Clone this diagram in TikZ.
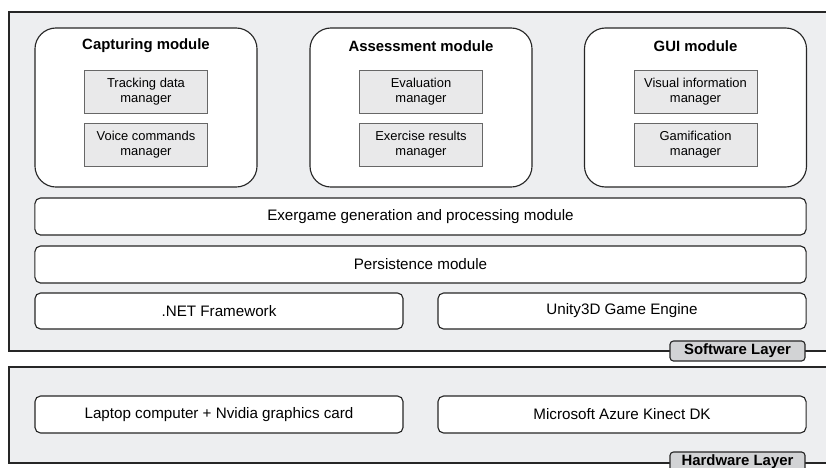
\documentclass[tikz,border=0pt]{standalone}
\usepackage{fontspec}
\setmainfont{Liberation Sans}
\usetikzlibrary{positioning}
\definecolor{cframe}{HTML}{EDEEF0}
\definecolor{cinner}{HTML}{E9E9EA}
\definecolor{ctag}{HTML}{D2D3D5}
\definecolor{cline}{HTML}{262626}
\tikzset{
  every picture/.style={line width=0.8pt},
  layer/.style={draw=cline, fill=cframe, line width=1pt},
  module/.style={draw=cline, fill=white, rounded corners=15pt, minimum width=5.55cm, minimum height=3.975cm},
  part/.style={draw=cline!70, fill=cinner, line width=0.6pt, align=center, minimum width=3.075cm, minimum height=1.075cm, font=\fontsize{9.2}{10.5}\selectfont, inner sep=1pt},
  bar/.style={draw=cline, fill=white, rounded corners=4pt, minimum height=0.925cm, font=\fontsize{10.8}{12}\selectfont},
  tag/.style={draw=cline, fill=ctag, rounded corners=2.5pt, minimum width=3.375cm, minimum height=0.5cm, inner sep=0pt, font=\bfseries\fontsize{10.6}{12}\selectfont},
}
\begin{document}
\begin{tikzpicture}[x=0.025cm, y=-0.025cm]
  \useasboundingbox (0,0) rectangle (826,467);
  % layers
  \draw[layer] (840,12) -- (9,12) -- (9,351) -- (840,351);
  \draw[layer] (840,367) -- (9,367) -- (9,463) -- (840,463);
  % modules with their managers
  \foreach \X/\name/\h/\a/\b in {
     146/cap/{Capturing module}/{Tracking data\\manager}/{Voice commands\\manager},
     421/ass/{Assessment module}/{Evaluation\\manager}/{Exercise results\\manager},
     695.5/gui/{GUI module}/{Visual information\\manager}/{Gamification\\manager}} {
    \node[module] (\name) at (\X,107.5) {};
    \node[font=\bfseries\fontsize{10.6}{12}\selectfont] (\name-title) at (\X,46) {\h};
    \node[part] (\name-a) at (\X,91.5) {\a};
    \node[part] (\name-b) at (\X,144.5) {\b};
  }
  % software bars
  \node[bar, minimum width=19.275cm] (exergame) at (420.5,216.5) {Exergame generation and processing module};
  \node[bar, minimum width=19.275cm] (persist) at (420.5,264.5) {Persistence module};
  \node[bar, minimum width=9.2cm, minimum height=0.9cm] (net) at (219,311) {.NET Framework};
  \node[bar, minimum width=9.2cm, minimum height=0.9cm] (unity) at (622,311) {Unity3D Game Engine};
  % hardware bars
  \node[bar, minimum width=9.2cm] (laptop) at (219,414.5) {Laptop computer + Nvidia graphics card};
  \node[bar, minimum width=9.2cm] (kinect) at (622,414.5) {Microsoft Azure Kinect DK};
  % layer tags
  \node[tag] (swtag) at (737.5,351) {Software Layer};
  \node[tag] (hwtag) at (737.5,462) {Hardware Layer};
\end{tikzpicture}
\end{document}
